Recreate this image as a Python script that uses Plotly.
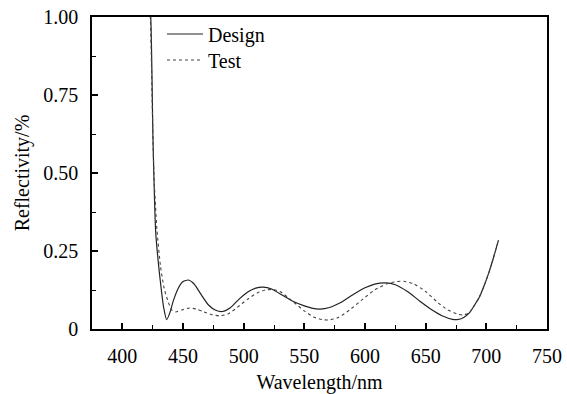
import plotly.graph_objects as go

# Design curve (wavelength nm, reflectivity)
design_wl = [421.5, 423.4, 425.3, 427.5, 430, 432, 434, 436.5, 439, 442, 446, 450, 454.5, 459, 465, 471, 477, 482.5,
             489, 496, 504, 510, 516, 523, 532, 541, 550, 557, 563, 570, 580, 590, 600, 608, 617, 625, 635, 645,
             655, 665, 672, 676, 681, 686, 690, 694, 698, 702, 706, 710]
design_r = [1.08, 1.0, 0.6, 0.31, 0.2, 0.13, 0.07, 0.03, 0.05, 0.09, 0.13, 0.152, 0.157, 0.145, 0.11, 0.077, 0.06, 0.056,
            0.068, 0.095, 0.12, 0.131, 0.134, 0.128, 0.108, 0.088, 0.074, 0.066, 0.064, 0.068, 0.085, 0.11, 0.132, 0.144,
            0.148, 0.142, 0.12, 0.09, 0.062, 0.04, 0.031, 0.03, 0.036, 0.052, 0.075, 0.1, 0.137, 0.18, 0.23, 0.285]

# Test curve
test_wl = [421, 423, 424.5, 426, 428.5, 431.5, 434.5, 438, 441, 444, 449, 455, 461, 467, 474, 480, 487, 495, 503, 511,
           518, 523, 530, 540, 550, 558, 565, 570, 577, 587, 598, 608, 618, 626, 632, 640, 650, 660, 668, 676, 681,
           686, 690, 694, 698, 702, 706, 710]
test_r = [1.08, 1.0, 0.75, 0.5, 0.32, 0.2, 0.13, 0.085, 0.06, 0.055, 0.061, 0.067, 0.064, 0.055, 0.046, 0.042, 0.048,
          0.07, 0.095, 0.115, 0.125, 0.127, 0.12, 0.09, 0.058, 0.038, 0.03, 0.029, 0.035, 0.06, 0.095, 0.125, 0.145,
          0.152, 0.153, 0.145, 0.12, 0.085, 0.062, 0.048, 0.045, 0.052, 0.075, 0.1, 0.137, 0.18, 0.23, 0.285]

x_ticks = [400, 450, 500, 550, 600, 650, 700, 750]
y_ticks = [0, 0.25, 0.5, 0.75, 1.0]
y_tick_text = ["0", "0.25", "0.50", "0.75", "1.00"]

FONT = "Liberation Serif"

fig = go.Figure()
fig.add_trace(go.Scatter(x=design_wl, y=design_r, mode="lines", name="Design", legend="legend",
                         line=dict(color="#222222", width=1.2, shape="spline", smoothing=0.6)))
fig.add_trace(go.Scatter(x=test_wl, y=test_r, mode="lines", name="Test", legend="legend2",
                         line=dict(color="#444444", width=1.1, dash="dot", shape="spline", smoothing=0.6)))

axis_common = dict(showline=True, linecolor="black", linewidth=1.6, mirror=True, showgrid=False, zeroline=False,
                   ticks="inside", ticklen=6, tickwidth=1.5, tickcolor="black", automargin=False,
                   ticklabeloverflow="allow",
                   tickfont=dict(family=FONT, size=20, color="black"))

fig.update_xaxes(range=[375, 750], tickvals=x_ticks, ticklabelstandoff=8,
                 minor=dict(ticks="inside", ticklen=4, tickwidth=1.2, tickcolor="black", dtick=25, tick0=375),
                 title=dict(text="Wavelength/nm", font=dict(family=FONT, size=20, color="black"), standoff=16),
                 **axis_common)
fig.update_yaxes(range=[0, 1.0], tickvals=y_ticks, ticktext=y_tick_text, ticklabelstandoff=8,
                 minor=dict(ticks="inside", ticklen=4, tickwidth=1.2, tickcolor="black", dtick=0.125, tick0=0),
                 title=dict(text="Reflectivity/%", font=dict(family=FONT, size=20, color="black"), standoff=8),
                 **axis_common)

legend_common = dict(xanchor="left", yanchor="middle", bgcolor="rgba(0,0,0,0)",
                     font=dict(family=FONT, size=20, color="black"), itemwidth=36)

fig.update_layout(
    width=567, height=394,
    margin=dict(l=92, r=20, t=17, b=65),
    paper_bgcolor="white", plot_bgcolor="white",
    showlegend=True,
    legend=dict(x=0.1538, y=1 - 19 / 312 + 2 / 312, **legend_common),
    legend2=dict(x=0.1538, y=1 - 45 / 312 + 2 / 312, **legend_common),
    font=dict(family=FONT, color="black"),
)

fig.write_html("out.html", config={"displayModeBar": False},
               post_script="document.body.style.margin='0';document.body.style.overflow='hidden';")
